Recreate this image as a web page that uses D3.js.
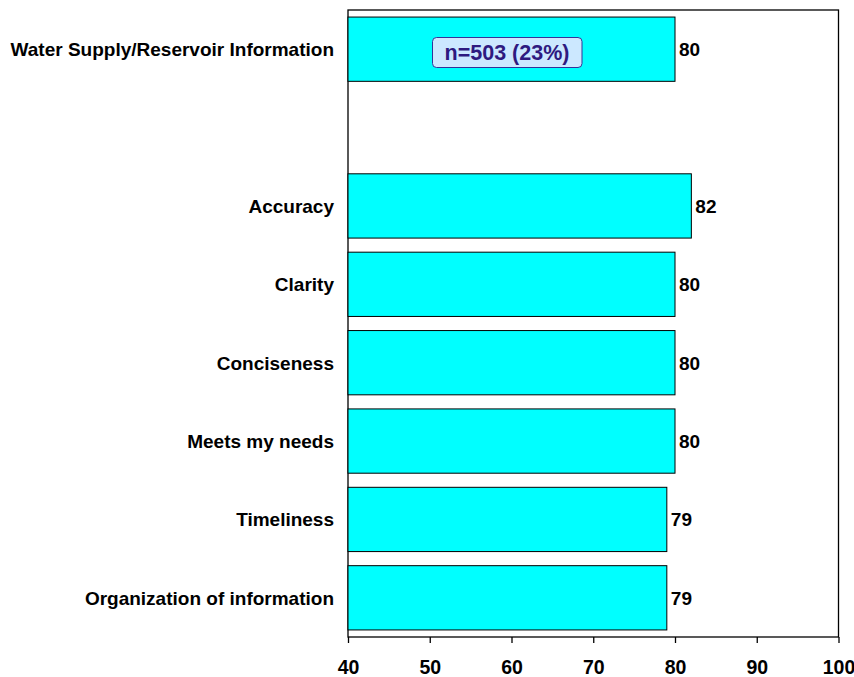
<!DOCTYPE html>
<html><head><meta charset="utf-8">
<script src="https://cdn.jsdelivr.net/npm/d3@7"></script>
<style>body{margin:0;background:#fff;}svg{display:block;font-family:"Liberation Sans",Arial,sans-serif;font-weight:bold;}</style>
</head><body>
<svg id="c" width="854" height="677"></svg>
<script>
const categories = ["Water Supply/Reservoir Information", "", "Accuracy", "Clarity", "Conciseness", "Meets my needs", "Timeliness", "Organization of information"];
const values = [80, null, 82, 80, 80, 80, 79, 79];
const ticks = [40, 50, 60, 70, 80, 90, 100];
const note = "n=503 (23%)";

const svg = d3.select("#c");
const L = 348, R = 838.5, T = 10, B = 637;
const x = d3.scaleLinear().domain([40, 100]).range([L, R]);
const y = d3.scaleBand().domain(d3.range(categories.length)).range([T, B]).paddingInner(0.18).paddingOuter(0.09);

svg.append("rect").attr("x", L).attr("y", T).attr("width", R - L).attr("height", B - T)
  .attr("fill", "#fff").attr("stroke", "#000").attr("stroke-width", 1.3);

const data = categories.map((c, i) => ({c, v: values[i], i}));

svg.selectAll("rect.bar").data(data.filter(d => d.v != null)).join("rect")
  .attr("class", "bar")
  .attr("x", x(40)).attr("y", d => y(d.i))
  .attr("width", d => x(d.v) - x(40)).attr("height", y.bandwidth())
  .attr("fill", "#00ffff").attr("stroke", "#000").attr("stroke-width", 1);

svg.selectAll("text.val").data(data.filter(d => d.v != null)).join("text")
  .attr("x", d => x(d.v) + 4).attr("y", d => y(d.i) + y.bandwidth() / 2 + 7)
  .attr("font-size", 19).attr("fill", "#000").text(d => d.v);

svg.selectAll("text.cat").data(data.filter(d => d.c)).join("text")
  .attr("x", L - 14).attr("y", d => y(d.i) + y.bandwidth() / 2 + 7)
  .attr("text-anchor", "end").attr("font-size", 19).attr("fill", "#000").text(d => d.c);

const ax = svg.append("g").attr("transform", `translate(0,${B})`)
  .call(d3.axisBottom(x).tickValues(ticks).tickSize(6).tickSizeOuter(0).tickPadding(0));
ax.select(".domain").remove();
ax.selectAll(".tick line").attr("stroke", "#000").attr("stroke-width", 1.3);
ax.selectAll(".tick text").attr("font-size", 19.5).attr("font-family", "Liberation Sans, Arial, sans-serif")
  .attr("font-weight", "bold").attr("fill", "#000").attr("dy", null).attr("y", 37);

const g = svg.append("g");
g.append("rect").attr("x", 432.5).attr("y", 37.5).attr("width", 149.5).attr("height", 30).attr("rx", 4)
  .attr("fill", "#cce8ff").attr("stroke", "#333399").attr("stroke-width", 1);
g.append("text").attr("x", 507).attr("y", 60).attr("text-anchor", "middle").attr("font-size", 21.5)
  .attr("fill", "#2e1a80").text(note);
</script>
</body></html>
